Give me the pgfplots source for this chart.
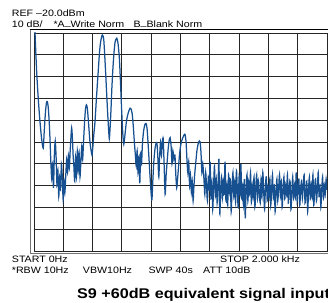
\documentclass[border=0pt]{standalone}
\usepackage{fontspec}
\setmainfont{Liberation Sans}[FakeStretch=1.15]
\usepackage{pgfplots}
\pgfplotsset{compat=1.18}
\definecolor{trace}{RGB}{22,80,145}
\newcommand{\sm}{\fontsize{9.3}{10}\selectfont}
\begin{document}
\begin{tikzpicture}
\useasboundingbox (0,0) rectangle (328bp,303bp);
\clip (0,0) rectangle (328bp,303bp);
\begin{axis}[at={(34bp,52bp)}, anchor=south west, scale only axis,
  width=293bp, height=218bp,
  xmin=0, xmax=2000, ymin=-120, ymax=-20,
  xtick={200,400,...,1800}, ytick={-110,-100,...,-30},
  xticklabels={}, yticklabels={}, major tick length=0pt,
  grid=major, major grid style={black!85, line width=0.9bp},
  axis line style={black!85, line width=0.9bp},
  clip=true]
\addplot[trace, line width=1.25bp, smooth, tension=0.45] coordinates {
(0,-8) (7,-20) (18,-37.5) (29,-50) (40,-60) (52,-68.5) (63,-72.8) (70,-65) (78,-56.5) (85,-52) (91,-51.5) (97,-54) (104,-61) (110,-70) (115,-79) (121,-87)
(127,-80) (133,-91) (139,-76) (145,-69.5) (151,-77) (157,-90) (163,-83) (169,-95) (175,-86) (181,-92) (187,-80) (193,-86) (199,-96.5) (205,-88) (211,-93) (217,-85) (223,-78) (229,-84) (235,-76) (241,-82) (247,-74)
(252,-68) (257,-63.5) (262,-68) (267,-76) (272,-81)
(278,-88) (284,-77) (290,-86) (296,-74) (302,-83) (308,-75) (314,-86) (320,-79) (326,-72) (332,-78)
(338,-70) (346,-60) (352,-54.5) (358,-53) (364,-54.5) (372,-61) (382,-70) (390,-74) (396,-76) (402,-72)
(409,-66) (416,-61) (428,-48) (439,-37) (447,-29) (455,-24) (466,-20.9) (476,-23) (485,-33) (494,-45) (503,-57) (509,-64) (514,-68.5) (519,-64) (525,-56) (531,-46) (538,-37) (546,-29) (554,-24) (565,-22.4) (574,-25) (583,-32) (590,-42) (598,-55) (606,-66) (613,-71)
(622,-66) (632,-60) (644,-56.5) (655,-54.5) (662,-54.8) (670,-57) (678,-63) (685,-70) (692,-76) (698,-81)
(704,-74) (710,-84) (716,-77) (722,-89) (728,-75) (734,-80) (740,-71)
(748,-65) (757,-62) (765,-61.5) (772,-64) (780,-72) (787,-80) (794,-88) (800,-94) (805,-96.5) (811,-88) (818,-79) (826,-73) (834,-70.5) (840,-71) (846,-78) (852,-86) (858,-76) (864,-70) (870,-76) (876,-70) (882,-68.5) (888,-80) (895,-94) (902,-85) (909,-79) (916,-73) (922,-69.5) (929,-68) (936,-72) (942,-80) (948,-74) (955,-78) (962,-76) (968,-85) (974,-91) (980,-87) (986,-82) (993,-76) (1000,-72) (1008,-69.5) (1016,-68) (1024,-66.8) (1031,-66.5) (1038,-70) (1044,-78) (1050,-84) (1056,-79) (1062,-90) (1068,-85) (1074,-93) (1080,-88) (1086,-97) (1092,-90) (1098,-84) (1105,-79) (1112,-74) (1120,-71) (1128,-69.5) (1134,-70) (1140,-75) (1146,-84) (1152,-80)
(1160,-87) (1166,-94) (1172,-84) (1178,-91) (1184,-97) (1190,-86) (1196,-92) (1202,-79) (1208,-96) (1214,-88) (1220,-101) (1226,-90) (1232,-81) (1238,-95) (1244,-87) (1250,-98) (1256,-91) (1262,-78) (1268,-103) (1274,-92) (1280,-86) (1286,-96) (1292,-88) (1298,-94) (1304,-79) (1310,-97) (1316,-90) (1322,-99) (1328,-85) (1334,-93) (1340,-87) (1346,-102) (1352,-91) (1358,-84) (1364,-95) (1370,-88) (1376,-98) (1382,-83) (1388,-92) (1394,-100) (1400,-86) (1406,-94) (1412,-80) (1418,-96) (1424,-90) (1430,-99) (1436,-87) (1442,-105) (1448,-92) (1454,-85) (1460,-97) (1466,-88) (1472,-94) (1478,-84) (1484,-98) (1490,-90) (1496,-95) (1502,-86) (1508,-100) (1514,-91) (1520,-85) (1526,-96) (1532,-88) (1538,-93) (1544,-98) (1550,-87) (1556,-95) (1562,-84) (1568,-93) (1574,-101) (1580,-90) (1586,-86) (1592,-97) (1598,-91) (1604,-95) (1610,-87) (1616,-99) (1622,-92) (1628,-85) (1634,-96) (1640,-90) (1646,-102) (1652,-93) (1658,-87) (1664,-97) (1670,-91) (1676,-85) (1682,-95) (1688,-88) (1694,-100) (1700,-92) (1706,-86) (1712,-96) (1718,-90) (1724,-94) (1730,-85) (1736,-98) (1742,-91) (1748,-88) (1754,-101) (1760,-93) (1766,-86) (1772,-96) (1778,-90) (1784,-95) (1790,-84) (1796,-97) (1802,-91) (1808,-87) (1814,-99) (1820,-92) (1826,-88) (1832,-96) (1838,-90) (1844,-85) (1850,-98) (1856,-93) (1862,-88) (1868,-102) (1874,-92) (1880,-86) (1886,-96) (1892,-90) (1898,-95) (1904,-85) (1910,-99) (1916,-91) (1922,-87) (1928,-97) (1934,-92) (1940,-84) (1946,-95) (1952,-90) (1958,-100) (1964,-92) (1970,-86) (1976,-96) (1982,-90) (1988,-94) (1994,-87) (2000,-92)
};
\end{axis}
% outer frame
\draw[black!55, line width=1bp] (30bp,49.5bp) -- (30bp,273.3bp);
\draw[black!55, line width=1bp] (30bp,49.5bp) -- (335bp,49.5bp);
\draw[black, line width=1.2bp] (29.5bp,273.3bp) -- (335bp,273.3bp);
% texts
\node[anchor=base west, inner sep=0pt, font=\sm] at (11.7bp,286.3bp) {REF –20.0dBm};
\node[anchor=base west, inner sep=0pt, font=\sm] at (11.7bp,275.7bp) {10 dB/};
\node[anchor=base west, inner sep=0pt, font=\sm] at (53.3bp,275.7bp) {*A\raisebox{0.15em}{\_}Write Norm};
\node[anchor=base west, inner sep=0pt, font=\sm] at (133.3bp,275.7bp) {B\raisebox{0.15em}{\_}Blank Norm};
\node[anchor=base west, inner sep=0pt, font=\sm] at (11.7bp,40bp) {START 0Hz};
\node[anchor=base west, inner sep=0pt, font=\sm] at (220bp,40bp) {STOP 2.000 kHz};
\node[anchor=base west, inner sep=0pt, font=\sm] at (11.7bp,30bp) {*RBW 10Hz};
\node[anchor=base west, inner sep=0pt, font=\sm] at (82.7bp,30bp) {VBW10Hz};
\node[anchor=base west, inner sep=0pt, font=\sm] at (148.3bp,30bp) {SWP 40s};
\node[anchor=base west, inner sep=0pt, font=\sm] at (203bp,30bp) {ATT 10dB};
\node[anchor=base west, inner sep=0pt, font=\fontsize{14.1}{16}\selectfont\bfseries] at (77bp,5bp) {S9 +60dB equivalent signal input};
\end{tikzpicture}
\end{document}
